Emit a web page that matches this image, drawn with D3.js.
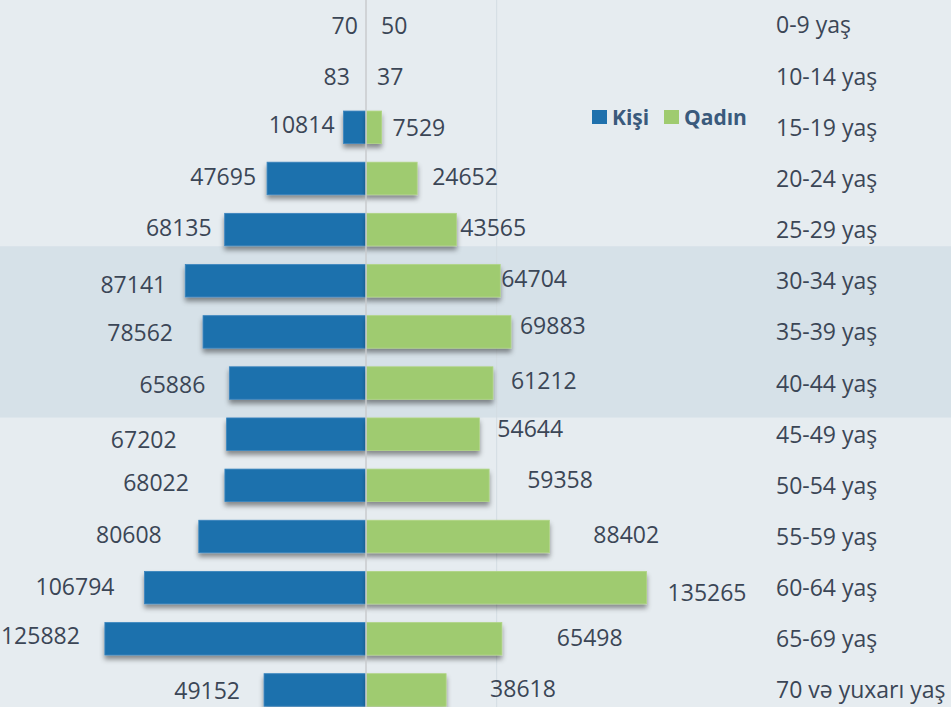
<!DOCTYPE html>
<html>
<head>
<meta charset="utf-8">
<script src="https://cdn.jsdelivr.net/npm/d3@7/dist/d3.min.js"></script>
<style>
  html, body { margin: 0; padding: 0; background: #e6ecf0; }
  svg { display: block; }
</style>
</head>
<body>
<svg id="chart" width="951" height="707"></svg>
<script>
// ---- data ----
const categories = ["0-9 yaş","10-14 yaş","15-19 yaş","20-24 yaş","25-29 yaş","30-34 yaş","35-39 yaş","40-44 yaş","45-49 yaş","50-54 yaş","55-59 yaş","60-64 yaş","65-69 yaş","70 və yuxarı yaş"];
const male   = [70, 83, 10814, 47695, 68135, 87141, 78562, 65886, 67202, 68022, 80608, 106794, 125882, 49152];
const female = [50, 37, 7529, 24652, 43565, 64704, 69883, 61212, 54644, 59358, 88402, 135265, 65498, 38618];
const seriesNames = ["Kişi", "Qadın"];
const highlighted = ["30-34 yaş", "35-39 yaş", "40-44 yaş"];
const gridValues = [63000];

// ---- layout (label placement as in the reference) ----
const maleGap   = [8, 16, 9, 11, 13, 19, 30, 24, 50, 36, 37, 30, 25, 24];
const maleDy    = [0.5, 0.5, -2, -2, -2, 4, 1, 1.5, 6, -3, -1.5, -1, -2.5, 1];
const femaleGap = [15, 11, 11, 15, 4, 1, 9, 18, 18, 38, 44, 21, 55, 44];
const femaleDy  = [0.5, 0.5, 0.5, -2, -2, -2, -6, -2.5, -5, -6, -1.5, 5.5, -1, -1];

const W = 951, H = 707;
const cx = 366;
const blue = "#1f71ad", green = "#9fcb6f";
const textColor = "#3b4656";
const font = "'Open Sans', 'Noto Sans', sans-serif";

const svg = d3.select("#chart");

const xMale   = d3.scaleLinear().domain([0, 140000]).range([cx, cx - 290.4]);
const xFemale = d3.scaleLinear().domain([0, 140000]).range([cx, cx + 290.4]);
const y = d3.scaleBand().domain(categories).range([-0.6, 715.5]).paddingInner(0.365).paddingOuter(0.1825);
const yc = c => y(c) + y.bandwidth() / 2;

// defs
const defs = svg.append("defs");
const f = defs.append("filter").attr("id", "shadow").attr("x", "-10%").attr("y", "-30%").attr("width", "120%").attr("height", "170%");
f.append("feDropShadow").attr("dx", 0).attr("dy", 4).attr("stdDeviation", 2.6)
  .attr("flood-color", "#000").attr("flood-opacity", 0.42);

// background
svg.append("rect").attr("x", 0).attr("y", 0).attr("width", W).attr("height", H).attr("fill", "#e6ecf0");
svg.append("rect")
  .attr("x", 0).attr("width", W)
  .attr("y", yc(highlighted[0]) - 34.5)
  .attr("height", yc(highlighted[highlighted.length - 1]) - yc(highlighted[0]) + 69)
  .attr("fill", "#d6e1e8");

// gridlines
svg.selectAll("line.grid").data(gridValues).join("line")
  .attr("class", "grid")
  .attr("x1", d => xFemale(d)).attr("x2", d => xFemale(d))
  .attr("y1", 0).attr("y2", H)
  .attr("stroke", "#d3dce2").attr("stroke-width", 1);

// bars
const rows = categories.map((c, i) => ({ c, i, m: male[i], f: female[i] }));
svg.append("g").attr("filter", "url(#shadow)")
  .selectAll("rect").data(rows).join("rect")
  .attr("x", d => xMale(d.m))
  .attr("y", d => y(d.c))
  .attr("width", d => Math.max(0, cx - 0.5 - xMale(d.m)))
  .attr("height", y.bandwidth())
  .attr("fill", blue)
  .attr("stroke", "#3a85bf").attr("stroke-width", 0.8);

svg.append("g").attr("filter", "url(#shadow)")
  .selectAll("rect").data(rows).join("rect")
  .attr("x", cx + 0.5)
  .attr("y", d => y(d.c))
  .attr("width", d => Math.max(0, xFemale(d.f) - cx - 0.5))
  .attr("height", y.bandwidth())
  .attr("fill", green)
  .attr("stroke", "#b0d585").attr("stroke-width", 0.8);

// center axis line
svg.append("line")
  .attr("x1", cx).attr("x2", cx).attr("y1", 0).attr("y2", H)
  .attr("stroke", "#c8cbce").attr("stroke-width", 1.5);

// value labels
svg.append("g").selectAll("text").data(rows).join("text")
  .attr("x", d => xMale(d.m) - maleGap[d.i])
  .attr("y", d => yc(d.c) + maleDy[d.i] + 8.2)
  .attr("text-anchor", "end")
  .attr("font-family", font).attr("font-size", 23)
  .attr("fill", textColor)
  .text(d => d.m);

svg.append("g").selectAll("text").data(rows).join("text")
  .attr("x", d => xFemale(d.f) + femaleGap[d.i])
  .attr("y", d => yc(d.c) + femaleDy[d.i] + 8.2)
  .attr("text-anchor", "start")
  .attr("font-family", font).attr("font-size", 23)
  .attr("fill", textColor)
  .text(d => d.f);

// category labels (right side axis)
const yAxis = d3.axisRight(y).tickSize(0).tickPadding(0);
const ag = svg.append("g").attr("transform", "translate(776,0)").call(yAxis);
ag.select(".domain").remove();
ag.selectAll("text")
  .attr("font-family", font).attr("font-size", 23)
  .attr("fill", textColor)
  .attr("dy", null)
  .attr("y", 8.5)
  .attr("x", 0)
  .attr("text-anchor", "start");

// legend
const legendColors = [blue, green];
const legendX = [592, 664];
const lg = svg.append("g");
seriesNames.forEach((n, i) => {
  lg.append("rect").attr("x", legendX[i]).attr("y", 110).attr("width", 15).attr("height", 14).attr("fill", legendColors[i]);
  lg.append("text").attr("x", legendX[i] + 20).attr("y", 124.5)
    .attr("font-family", font).attr("font-size", 21).attr("font-weight", 700)
    .attr("fill", "#3a5a7c").text(n);
});
</script>
</body>
</html>
